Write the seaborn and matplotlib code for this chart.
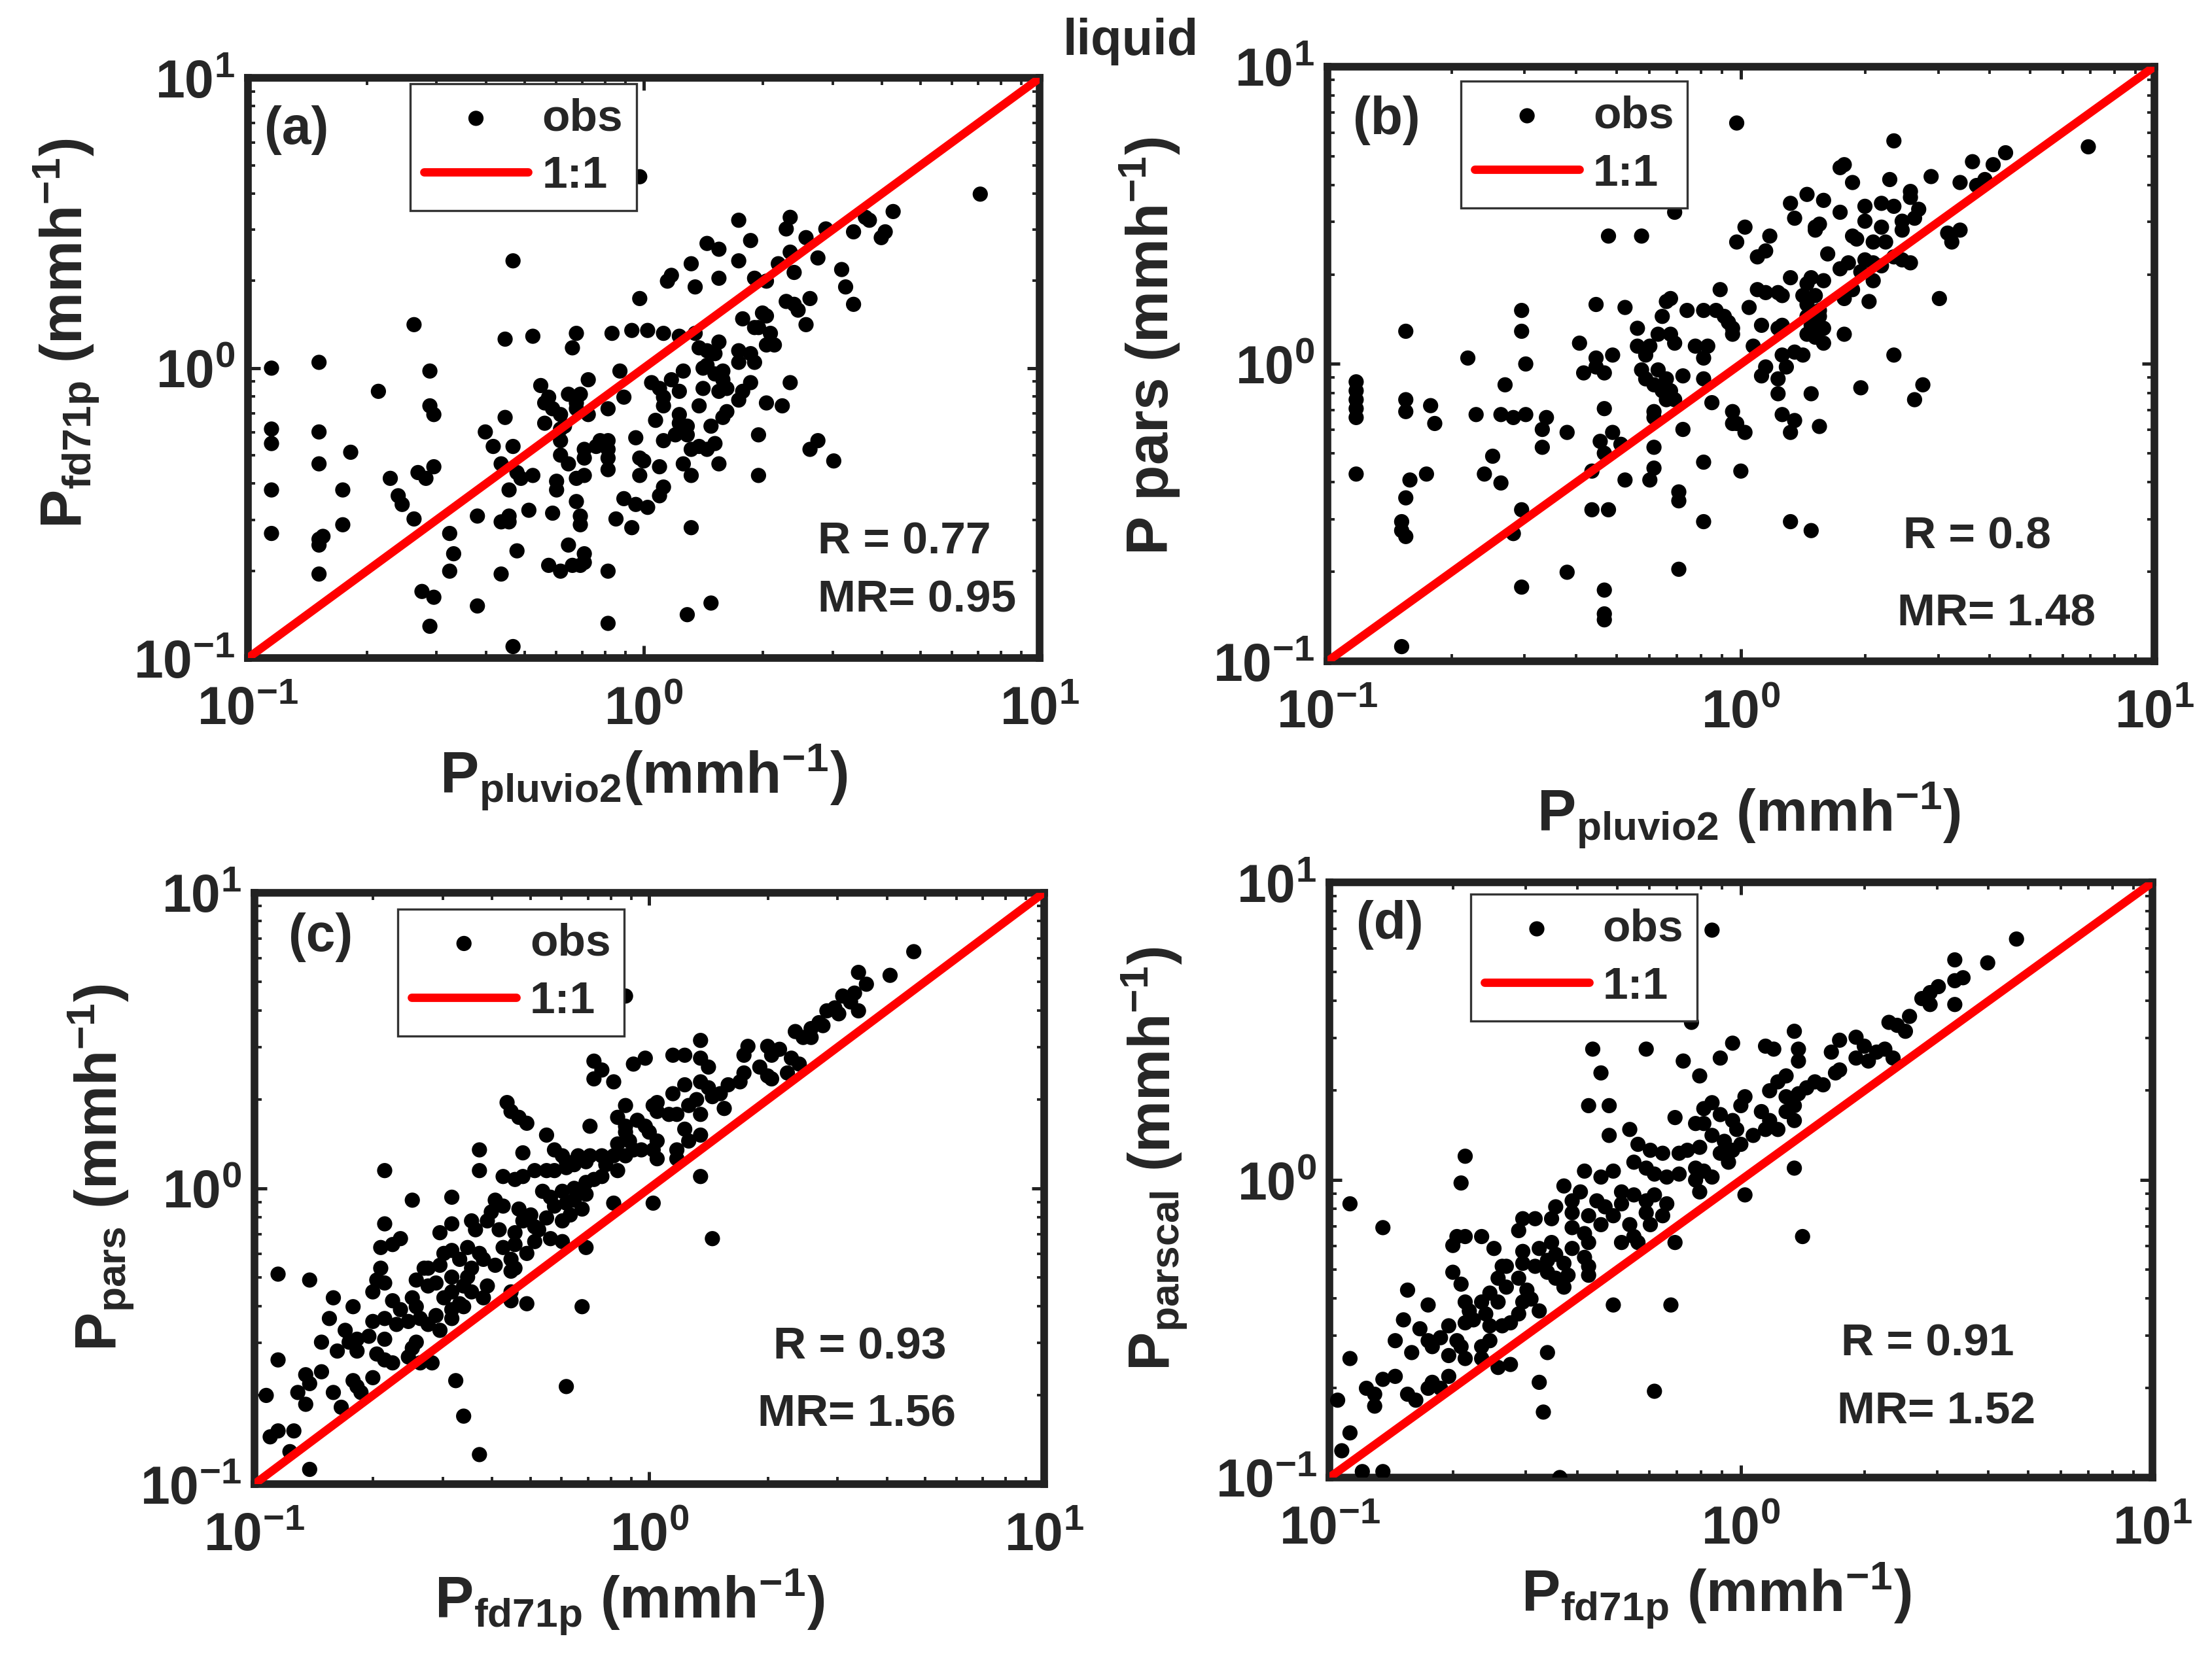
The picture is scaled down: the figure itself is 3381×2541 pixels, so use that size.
import numpy as np
import seaborn as sns
import matplotlib.pyplot as plt
from matplotlib.ticker import FixedLocator, FixedFormatter, LogLocator, NullFormatter

# values, stored as log10(mm/h)
# (a) fd71p vs pluvio2
a_x = [-0.01, 0.85, -0.33, 0.24, 0.37, 0.36, 0.41, 0.46, 0.53, 0.56,
       0.57, 0.63, 0.61, 0.60, 0.16, 0.19, 0.27, 0.24, 0.12, 0.34,
       0.37, 0.44, 0.38, 0.50, 0.07, 0.06, 0.19, 0.13, 0.28, 0.31,
       0.51, 0.53, -0.01, 0.36, 0.38, 0.42, 0.39, 0.30, 0.25, 0.31,
       0.41, -0.58, -0.35, -0.28, -0.17, -0.18, -0.08, -0.03, 0.01, 0.05,
       0.09, 0.13, 0.28, 0.29, 0.32, 0.31, 0.33, 0.14, 0.19, 0.16,
       0.18, 0.24, 0.27, 0.28, 0.24, -0.94, -0.82, -0.54, -0.06, 0.10,
       0.15, 0.16, 0.20, 0.18, 0.20, -0.67, -0.26, -0.14, 0.02, 0.04,
       0.09, 0.07, 0.15, 0.19, 0.21, 0.27, 0.37, 0.25, 0.24, -0.19,
       -0.16, -0.24, -0.25, -0.05, 0.05, 0.05, 0.14, 0.31, 0.35, -0.54,
       -0.53, -0.35, -0.23, -0.21, -0.17, -0.09, -0.17, -0.14, -0.25, -0.20,
       0.03, 0.09, 0.21, 0.20, 0.17, 0.09, 0.11, -0.94, -0.82, -0.40,
       -0.21, -0.02, 0.08, 0.10, 0.11, 0.05, 0.29, -0.94, -0.74, -0.38,
       -0.33, -0.21, -0.12, -0.11, -0.09, -0.09, -0.15, 0.18, 0.14, 0.16,
       0.12, 0.42, 0.44, -0.82, -0.53, -0.36, -0.21, -0.19, -0.15, -0.09,
       -0.01, 0.00, 0.10, 0.19, 0.48, -0.64, -0.57, -0.55, -0.32, -0.31,
       -0.28, -0.17, -0.15, -0.22, -0.09, 0.04, -0.01, 0.12, 0.29, -0.94,
       -0.76, -0.34, -0.22, 0.05, 0.04, -0.62, -0.61, -0.17, -0.05, -0.02,
       0.01, -0.58, -0.42, -0.36, -0.34, -0.34, -0.29, -0.23, -0.16, -0.16,
       -0.07, -0.03, 0.12, -0.76, -0.94, -0.82, -0.81, -0.82, -0.49, -0.48,
       -0.32, -0.19, -0.15, -0.15, -0.24, -0.21, -0.18, -0.16, -0.82, -0.49,
       -0.36, -0.09, -0.56, -0.53, -0.42, 0.17, 0.11, -0.54, -0.09, -0.33]
a_y = [0.66, 0.60, 0.37, 0.51, 0.52, 0.48, 0.45, 0.48, 0.47, 0.52,
       0.51, 0.54, 0.47, 0.45, 0.43, 0.41, 0.44, 0.37, 0.36, 0.36,
       0.40, 0.38, 0.33, 0.34, 0.32, 0.30, 0.31, 0.28, 0.31, 0.30,
       0.28, 0.22, 0.24, 0.23, 0.22, 0.24, 0.20, 0.19, 0.17, 0.18,
       0.15, 0.15, 0.10, 0.11, 0.12, 0.07, 0.12, 0.13, 0.13, 0.12,
       0.11, 0.12, 0.14, 0.14, 0.12, 0.08, 0.08, 0.07, 0.09, 0.06,
       0.05, 0.06, 0.05, 0.02, 0.02, 0.00, 0.02, -0.01, -0.01, -0.01,
       0.00, 0.01, -0.01, -0.02, -0.04, -0.08, -0.06, -0.04, -0.05, -0.07,
       -0.08, -0.04, -0.07, -0.08, -0.07, -0.05, -0.05, -0.08, -0.11, -0.09,
       -0.09, -0.10, -0.12, -0.10, -0.10, -0.13, -0.13, -0.12, -0.13, -0.13,
       -0.16, -0.17, -0.14, -0.16, -0.12, -0.14, -0.14, -0.16, -0.19, -0.20,
       -0.18, -0.16, -0.15, -0.17, -0.20, -0.19, -0.20, -0.21, -0.22, -0.22,
       -0.21, -0.24, -0.23, -0.22, -0.23, -0.25, -0.23, -0.26, -0.29, -0.27,
       -0.27, -0.25, -0.27, -0.25, -0.25, -0.28, -0.28, -0.26, -0.27, -0.28,
       -0.28, -0.28, -0.25, -0.33, -0.34, -0.33, -0.30, -0.33, -0.31, -0.31,
       -0.31, -0.32, -0.33, -0.33, -0.32, -0.38, -0.36, -0.38, -0.36, -0.38,
       -0.37, -0.38, -0.37, -0.39, -0.35, -0.34, -0.37, -0.37, -0.37, -0.42,
       -0.42, -0.42, -0.42, -0.41, -0.44, -0.44, -0.47, -0.46, -0.45, -0.47,
       -0.48, -0.52, -0.51, -0.53, -0.53, -0.51, -0.49, -0.50, -0.51, -0.54,
       -0.52, -0.55, -0.55, -0.54, -0.57, -0.59, -0.58, -0.61, -0.57, -0.64,
       -0.63, -0.61, -0.64, -0.67, -0.68, -0.70, -0.68, -0.68, -0.71, -0.70,
       -0.71, -0.70, -0.77, -0.79, -0.82, -0.81, -0.85, -0.89, -0.88, -0.96]

# (b) pars vs pluvio2
b_x = [-0.01, 0.37, 0.84, 0.24, 0.25, 0.64, 0.56, 0.61, 0.46, 0.36,
       0.27, 0.53, 0.57, 0.59, 0.41, 0.41, 0.16, 0.12, 0.20, 0.34,
       0.37, 0.30, 0.24, 0.43, -0.16, 0.13, 0.30, 0.34, 0.39, 0.42,
       0.39, 0.18, 0.19, 0.18, 0.01, 0.07, -0.32, -0.24, 0.27, 0.28,
       0.32, 0.35, -0.01, 0.50, 0.51, 0.53, 0.06, 0.04, 0.21, 0.30,
       0.32, 0.37, 0.39, 0.41, 0.26, 0.24, 0.29, 0.34, 0.12, 0.17,
       0.16, 0.20, 0.32, 0.27, 0.25, 0.31, 0.48, -0.05, 0.04, 0.06,
       0.09, 0.10, 0.15, 0.18, 0.16, 0.19, -0.17, -0.18, -0.35, -0.28,
       -0.53, -0.13, -0.09, -0.06, 0.02, -0.19, -0.04, -0.03, -0.02, -0.02,
       0.05, 0.10, 0.09, 0.16, 0.17, 0.19, 0.20, 0.18, 0.16, 0.20,
       0.25, -0.25, -0.53, -0.81, -0.20, -0.17, -0.16, -0.11, -0.08, -0.39,
       -0.25, -0.22, 0.03, -0.66, -0.52, -0.35, -0.35, -0.33, -0.31, -0.38,
       -0.23, -0.24, -0.23, -0.21, -0.19, -0.20, -0.18, -0.17, -0.16, -0.18,
       -0.14, -0.09, -0.09, 0.10, 0.13, 0.15, 0.06, 0.05, 0.09, 0.11,
       0.37, 0.44, 0.42, 0.29, 0.17, 0.09, -0.57, -0.93, -0.93, -0.93,
       -0.93, -0.93, -0.81, -0.81, -0.75, -0.74, -0.64, -0.58, -0.55, -0.52,
       -0.47, -0.48, -0.42, -0.33, -0.31, -0.21, -0.21, -0.07, -0.02, -0.02,
       -0.01, 0.01, -0.14, 0.10, 0.13, 0.12, 0.19, -0.48, -0.34, -0.33,
       -0.29, -0.21, -0.60, -0.21, -0.09, 0.00, -0.36, -0.93, -0.76, -0.62,
       -0.58, -0.80, -0.81, -0.28, -0.22, -0.15, -0.15, -0.53, -0.36, -0.32,
       -0.09, 0.12, 0.17, -0.82, -0.82, -0.81, -0.55, -0.42, -0.15, -0.53,
       -0.33, -0.33, -0.33, -0.82]
b_y = [0.81, 0.75, 0.73, 0.66, 0.67, 0.71, 0.68, 0.67, 0.63, 0.62,
       0.61, 0.61, 0.60, 0.62, 0.58, 0.56, 0.57, 0.54, 0.55, 0.54,
       0.53, 0.53, 0.51, 0.52, 0.51, 0.49, 0.48, 0.46, 0.48, 0.49,
       0.45, 0.46, 0.47, 0.45, 0.46, 0.43, 0.43, 0.43, 0.43, 0.42,
       0.41, 0.41, 0.41, 0.44, 0.41, 0.45, 0.38, 0.36, 0.37, 0.35,
       0.34, 0.36, 0.35, 0.34, 0.34, 0.32, 0.31, 0.33, 0.29, 0.29,
       0.27, 0.28, 0.28, 0.25, 0.22, 0.21, 0.22, 0.25, 0.25, 0.24,
       0.24, 0.23, 0.23, 0.23, 0.20, 0.18, 0.22, 0.21, 0.20, 0.19,
       0.18, 0.18, 0.18, 0.18, 0.19, 0.16, 0.16, 0.14, 0.12, 0.10,
       0.13, 0.13, 0.12, 0.16, 0.13, 0.16, 0.12, 0.09, 0.10, 0.07,
       0.10, 0.12, 0.11, 0.11, 0.10, 0.10, 0.07, 0.06, 0.06, 0.07,
       0.06, 0.06, 0.06, 0.02, 0.00, 0.02, -0.01, -0.03, 0.03, -0.03,
       0.03, -0.02, -0.05, -0.07, -0.09, -0.02, -0.05, -0.09, -0.12, -0.12,
       -0.04, 0.02, -0.05, 0.03, 0.04, 0.03, -0.01, -0.04, -0.05, -0.01,
       0.03, -0.07, -0.12, -0.08, -0.10, -0.10, -0.07, -0.06, -0.09, -0.12,
       -0.15, -0.18, -0.12, -0.16, -0.14, -0.20, -0.17, -0.17, -0.18, -0.17,
       -0.18, -0.22, -0.23, -0.15, -0.23, -0.16, -0.18, -0.13, -0.16, -0.20,
       -0.20, -0.23, -0.22, -0.17, -0.19, -0.23, -0.21, -0.28, -0.26, -0.30,
       -0.27, -0.28, -0.31, -0.35, -0.33, -0.36, -0.36, -0.37, -0.37, -0.37,
       -0.40, -0.39, -0.45, -0.39, -0.39, -0.43, -0.46, -0.49, -0.49, -0.49,
       -0.53, -0.53, -0.56, -0.53, -0.56, -0.58, -0.57, -0.70, -0.69, -0.75,
       -0.76, -0.84, -0.86, -0.95]

# (c) pars vs fd71p
c_x = [0.67, -0.06, 0.53, 0.61, 0.55, 0.49, 0.52, 0.51, 0.53, 0.47,
       0.45, 0.48, 0.43, 0.41, 0.44, 0.37, 0.39, 0.41, 0.13, 0.30,
       0.33, 0.31, 0.25, 0.24, 0.06, 0.09, -0.01, -0.04, -0.14, -0.12,
       -0.14, -0.09, 0.13, 0.15, 0.38, 0.36, 0.28, 0.30, 0.31, 0.35,
       0.24, 0.23, 0.13, 0.09, 0.06, 0.15, 0.20, 0.18, 0.16, 0.19,
       0.12, 0.10, 0.13, 0.07, 0.02, 0.01, 0.02, 0.05, -0.06, -0.08,
       -0.06, -0.03, -0.01, -0.36, -0.35, -0.33, -0.31, -0.15, -0.26, 0.09,
       0.10, 0.13, 0.00, 0.02, 0.01, -0.02, 0.02, -0.06, -0.05, -0.08,
       -0.06, -0.04, -0.09, -0.11, -0.08, -0.12, -0.43, -0.32, -0.43, -0.24,
       -0.22, -0.21, -0.18, -0.15, -0.12, 0.07, 0.07, 0.13, -0.67, -0.37,
       -0.34, -0.32, -0.29, -0.26, -0.24, -0.21, -0.19, -0.16, -0.27, -0.25,
       -0.22, -0.19, -0.16, -0.14, -0.60, -0.50, -0.39, -0.37, -0.40, -0.41,
       -0.38, -0.33, -0.30, -0.32, -0.29, -0.34, -0.24, -0.21, -0.19, -0.16,
       -0.17, -0.20, -0.22, -0.26, -0.28, -0.25, -0.22, -0.29, -0.09, 0.01,
       0.16, -0.16, -0.67, -0.63, -0.65, -0.68, -0.53, -0.50, -0.45, -0.44,
       -0.46, -0.43, -0.50, -0.48, -0.52, -0.53, -0.37, -0.34, -0.35, -0.31,
       -0.34, -0.35, -0.39, -0.42, -0.45, -0.46, -0.68, -0.69, -0.57, -0.56,
       -0.59, -0.56, -0.54, -0.50, -0.50, -0.47, -0.45, -0.41, -0.42, -0.48,
       -0.47, -0.52, -0.50, -0.54, -0.35, -0.35, -0.31, -0.17, -0.94, -0.86,
       -0.80, -0.75, -0.70, -0.67, -0.65, -0.63, -0.60, -0.59, -0.61, -0.58,
       -0.56, -0.53, -0.50, -0.81, -0.77, -0.76, -0.74, -0.71, -0.70, -0.67,
       -0.67, -0.64, -0.83, -0.79, -0.74, -0.69, -0.67, -0.65, -0.60, -0.59,
       -0.61, -0.58, -0.55, -0.94, -0.87, -0.83, -0.89, -0.86, -0.87, -0.80,
       -0.75, -0.74, -0.70, -0.73, -0.78, -0.97, -0.49, -0.21, -0.47, -0.96,
       -0.94, -0.90, -0.91, -0.43, -0.86]
c_y = [0.80, 0.65, 0.73, 0.72, 0.69, 0.65, 0.66, 0.63, 0.60, 0.61,
       0.60, 0.59, 0.56, 0.54, 0.55, 0.53, 0.51, 0.51, 0.50, 0.48,
       0.47, 0.45, 0.48, 0.45, 0.45, 0.45, 0.44, 0.42, 0.43, 0.40,
       0.37, 0.36, 0.44, 0.41, 0.42, 0.44, 0.41, 0.38, 0.37, 0.39,
       0.39, 0.36, 0.36, 0.35, 0.32, 0.34, 0.35, 0.32, 0.31, 0.27,
       0.30, 0.28, 0.25, 0.25, 0.29, 0.28, 0.26, 0.25, 0.28, 0.24,
       0.21, 0.23, 0.21, 0.29, 0.26, 0.24, 0.22, 0.21, 0.18, 0.20,
       0.16, 0.18, 0.19, 0.16, 0.13, 0.13, 0.10, 0.19, 0.16, 0.15,
       0.11, 0.13, 0.11, 0.08, 0.06, 0.04, 0.13, 0.12, 0.06, 0.13,
       0.11, 0.09, 0.11, 0.11, 0.11, 0.10, 0.13, 0.04, 0.06, 0.04,
       0.03, 0.04, 0.06, 0.06, 0.06, 0.07, 0.08, 0.09, -0.01, -0.03,
       -0.01, 0.00, 0.02, 0.03, -0.04, -0.03, -0.04, -0.06, -0.08, -0.11,
       -0.14, -0.07, -0.09, -0.11, -0.13, -0.15, -0.06, -0.05, -0.04, -0.02,
       -0.07, -0.09, -0.11, -0.10, -0.14, -0.17, -0.18, -0.18, -0.05, -0.05,
       -0.17, -0.20, -0.12, -0.17, -0.19, -0.20, -0.15, -0.12, -0.11, -0.14,
       -0.20, -0.22, -0.21, -0.24, -0.22, -0.26, -0.20, -0.19, -0.24, -0.22,
       -0.27, -0.28, -0.26, -0.24, -0.27, -0.30, -0.27, -0.31, -0.27, -0.27,
       -0.31, -0.33, -0.32, -0.30, -0.35, -0.33, -0.35, -0.33, -0.37, -0.39,
       -0.40, -0.37, -0.41, -0.43, -0.35, -0.38, -0.39, -0.40, -0.29, -0.31,
       -0.37, -0.40, -0.35, -0.32, -0.38, -0.41, -0.37, -0.40, -0.45, -0.44,
       -0.46, -0.48, -0.44, -0.44, -0.48, -0.52, -0.51, -0.50, -0.45, -0.44,
       -0.51, -0.46, -0.52, -0.55, -0.55, -0.56, -0.58, -0.59, -0.54, -0.52,
       -0.57, -0.59, -0.59, -0.58, -0.63, -0.62, -0.69, -0.66, -0.73, -0.69,
       -0.65, -0.67, -0.64, -0.69, -0.74, -0.70, -0.65, -0.67, -0.77, -0.84,
       -0.82, -0.82, -0.89, -0.90, -0.95]

# (d) parscal vs fd71p
d_x = [-0.07, 0.67, 0.52, 0.60, 0.54, 0.52, 0.48, 0.52, 0.46, 0.44,
       0.46, 0.41, 0.36, 0.38, 0.40, -0.12, 0.13, -0.02, 0.06, 0.08,
       0.14, 0.14, -0.05, -0.23, -0.36, -0.14, -0.34, -0.10, 0.24, 0.22,
       0.28, 0.30, 0.35, 0.28, 0.31, 0.33, 0.37, 0.24, 0.23, 0.11,
       0.09, 0.18, 0.20, 0.16, 0.14, 0.07, 0.11, 0.13, 0.11, 0.13,
       0.01, 0.00, 0.05, 0.07, 0.06, 0.09, -0.09, -0.07, -0.05, -0.02,
       -0.01, 0.03, -0.37, -0.32, -0.16, -0.11, -0.27, -0.32, -0.09, -0.07,
       -0.04, -0.05, -0.02, 0.00, -0.03, -0.25, -0.22, -0.19, -0.15, -0.13,
       -0.10, -0.26, -0.23, -0.21, -0.18, -0.15, -0.11, -0.09, -0.11, -0.10,
       -0.07, 0.13, 0.01, 0.15, -0.67, -0.68, -0.95, -0.87, -0.38, -0.34,
       -0.31, -0.43, -0.39, -0.41, -0.45, -0.41, -0.35, -0.33, -0.37, -0.31,
       -0.34, -0.29, -0.26, -0.23, -0.21, -0.18, -0.29, -0.23, -0.19, -0.22,
       -0.27, -0.26, -0.29, -0.25, -0.53, -0.50, -0.46, -0.54, -0.41, -0.38,
       -0.37, -0.41, -0.69, -0.67, -0.63, -0.70, -0.60, -0.16, -0.46, -0.49,
       -0.53, -0.45, -0.47, -0.53, -0.50, -0.47, -0.43, -0.42, -0.45, -0.43,
       -0.38, -0.37, -0.37, -0.58, -0.57, -0.59, -0.57, -0.54, -0.52, -0.70,
       -0.68, -0.61, -0.63, -0.59, -0.53, -0.51, -0.49, -0.54, -0.56, -0.58,
       -0.67, -0.66, -0.65, -0.67, -0.62, -0.61, -0.81, -0.76, -0.31, -0.17,
       -0.82, -0.78, -0.76, -0.75, -0.73, -0.71, -0.69, -0.84, -0.80, -0.71,
       -0.68, -0.67, -0.63, -0.63, -0.61, -0.59, -0.56, -0.47, -0.95, -0.84,
       -0.87, -0.91, -0.89, -0.89, -0.81, -0.79, -0.75, -0.76, -0.71, -0.73,
       -0.49, -0.21, -0.48, -0.98, -0.95, -0.97, -0.92, -0.87, -0.44]
d_y = [0.84, 0.81, 0.74, 0.73, 0.68, 0.67, 0.65, 0.59, 0.63, 0.61,
       0.59, 0.55, 0.53, 0.52, 0.50, 0.53, 0.50, 0.46, 0.45, 0.44,
       0.44, 0.40, 0.41, 0.44, 0.44, 0.40, 0.36, 0.35, 0.47, 0.43,
       0.48, 0.45, 0.44, 0.41, 0.40, 0.43, 0.41, 0.37, 0.36, 0.35,
       0.33, 0.33, 0.32, 0.31, 0.29, 0.30, 0.28, 0.25, 0.23, 0.20,
       0.28, 0.25, 0.23, 0.20, 0.17, 0.17, 0.24, 0.26, 0.22, 0.20,
       0.17, 0.15, 0.25, 0.25, 0.21, 0.19, 0.17, 0.15, 0.19, 0.15,
       0.13, 0.09, 0.10, 0.12, 0.06, 0.12, 0.10, 0.09, 0.09, 0.10,
       0.11, 0.06, 0.04, 0.02, 0.01, 0.02, 0.04, 0.03, 0.00, -0.04,
       0.01, 0.04, -0.05, -0.19, 0.08, -0.01, -0.08, -0.16, 0.03, 0.01,
       0.03, -0.02, -0.04, -0.07, -0.09, -0.11, -0.07, -0.09, -0.12, -0.12,
       -0.15, -0.04, -0.05, -0.07, -0.05, -0.08, -0.08, -0.11, -0.12, -0.15,
       -0.15, -0.19, -0.21, -0.21, -0.13, -0.13, -0.13, -0.17, -0.16, -0.18,
       -0.21, -0.23, -0.19, -0.19, -0.19, -0.22, -0.23, -0.21, -0.21, -0.23,
       -0.24, -0.25, -0.27, -0.28, -0.29, -0.31, -0.28, -0.32, -0.33, -0.36,
       -0.26, -0.29, -0.32, -0.29, -0.29, -0.33, -0.36, -0.33, -0.37, -0.31,
       -0.35, -0.38, -0.41, -0.41, -0.41, -0.40, -0.44, -0.45, -0.48, -0.49,
       -0.41, -0.44, -0.47, -0.48, -0.45, -0.49, -0.37, -0.42, -0.42, -0.42,
       -0.47, -0.50, -0.54, -0.56, -0.53, -0.49, -0.54, -0.54, -0.58, -0.59,
       -0.56, -0.60, -0.56, -0.60, -0.54, -0.63, -0.62, -0.58, -0.60, -0.66,
       -0.67, -0.70, -0.72, -0.76, -0.72, -0.74, -0.68, -0.70, -0.66, -0.70,
       -0.68, -0.71, -0.78, -0.74, -0.85, -0.91, -0.98, -0.98, -1.00]

one_to_one = [0.1, 10]
tags = ['(a)', '(b)', '(c)', '(d)']
r_text = ['R = 0.77', 'R = 0.8', 'R = 0.93', 'R = 0.91']
mr_text = ['MR= 0.95', 'MR= 1.48', 'MR= 1.56', 'MR= 1.52']
x_labels = ['P$_{pluvio2}$(mmh$^{-1}$)', 'P$_{pluvio2}$ (mmh$^{-1}$)',
            'P$_{fd71p}$ (mmh$^{-1}$)', 'P$_{fd71p}$ (mmh$^{-1}$)']
y_labels = ['P$_{fd71p}$ (mmh$^{-1}$)', 'P pars (mmh$^{-1}$)',
            'P$_{pars}$ (mmh$^{-1}$)', 'P$_{parscal}$ (mmh$^{-1}$)']
tick_vals = [0.1, 1, 10]
tick_text = ['10$^{-1}$', '10$^{0}$', '10$^{1}$']

sns.set_style('ticks')
plt.rcParams['font.family'] = ['Liberation Sans', 'DejaVu Sans']
plt.rcParams['font.weight'] = 'bold'
plt.rcParams['mathtext.fontset'] = 'custom'
plt.rcParams['mathtext.rm'] = 'Liberation Sans:bold'
plt.rcParams['mathtext.it'] = 'Liberation Sans:bold'
plt.rcParams['mathtext.bf'] = 'Liberation Sans:bold'
plt.rcParams['mathtext.sf'] = 'Liberation Sans:bold'
plt.rcParams['mathtext.default'] = 'rm'

fig = plt.figure(figsize=(16.905, 12.705), dpi=200)
fig.patch.set_facecolor('white')

rects = [[0.112, 0.604, 0.358, 0.349],
         [0.600, 0.602, 0.374, 0.358],
         [0.115, 0.107, 0.357, 0.356],
         [0.601, 0.111, 0.372, 0.358]]
legend_pos = [(0.205, 0.99), (0.162, 0.975), (0.182, 0.972), (0.172, 0.98)]
tag_pos = [(0.021, 0.91), (0.031, 0.91), (0.043, 0.924), (0.033, 0.929)]
r_pos = [(0.72, 0.20), (0.696, 0.21), (0.657, 0.232), (0.622, 0.225)]
mr_pos = [(0.72, 0.10), (0.689, 0.08), (0.637, 0.118), (0.617, 0.11)]
xlab_pos = [(0.50, -0.145), (0.51, -0.20), (0.475, -0.14), (0.47, -0.14)]
ylab_pos = [(-0.185, 0.56), (-0.175, 0.53), (-0.15, 0.535), (-0.17, 0.535)]

panels = [(a_x, a_y), (b_x, b_y), (c_x, c_y), (d_x, d_y)]

for i, (lx, ly) in enumerate(panels):
    ax = fig.add_axes(rects[i])
    xs = 10 ** np.array(lx)
    ys = 10 ** np.array(ly)
    sns.scatterplot(x=xs, y=ys, ax=ax, color='k', s=70, edgecolor='none',
                    label='obs', zorder=3)
    sns.lineplot(x=one_to_one, y=one_to_one, ax=ax, color='red', lw=4.6,
                 label='1:1', zorder=4)
    ax.set_xscale('log')
    ax.set_yscale('log')
    ax.set_xlim(0.1, 10)
    ax.set_ylim(0.1, 10)

    for axis in (ax.xaxis, ax.yaxis):
        axis.set_major_locator(FixedLocator(tick_vals))
        axis.set_major_formatter(FixedFormatter(tick_text))
        axis.set_minor_locator(LogLocator(base=10, subs=np.arange(2, 10)))
        axis.set_minor_formatter(NullFormatter())
    ax.tick_params(which='major', direction='in', length=7, width=1.8,
                   top=True, right=True, labelsize=29, color='#222222')
    ax.tick_params(which='minor', direction='in', length=4, width=1.4,
                   top=True, right=True, color='#222222')
    ax.tick_params(axis='x', pad=15)
    ax.tick_params(axis='y', pad=7)
    for sp in ax.spines.values():
        sp.set_linewidth(4.2)
        sp.set_color('#222222')

    ax.set_xlabel(x_labels[i], fontsize=32, fontweight='bold')
    ax.set_ylabel(y_labels[i], fontsize=32, fontweight='bold')
    ax.xaxis.set_label_coords(*xlab_pos[i])
    ax.yaxis.set_label_coords(*ylab_pos[i])

    leg = ax.legend(loc='upper left', bbox_to_anchor=legend_pos[i],
                    frameon=True, fancybox=False, edgecolor='#333333',
                    framealpha=1, fontsize=25, handlelength=2.3,
                    handletextpad=0.3, borderpad=0.3, labelspacing=0.35,
                    borderaxespad=0.0)
    leg.get_frame().set_linewidth(1.2)

    ax.text(*tag_pos[i], tags[i], transform=ax.transAxes, fontsize=29,
            fontweight='bold', va='center', ha='left')
    ax.text(*r_pos[i], r_text[i], transform=ax.transAxes,
            fontsize=25, fontweight='bold', va='center', ha='left')
    ax.text(*mr_pos[i], mr_text[i], transform=ax.transAxes,
            fontsize=25, fontweight='bold', va='center', ha='left')

fig.text(0.511, 0.975, 'liquid', ha='center', va='center', fontsize=28,
         fontweight='bold')

fig.savefig('out.png', dpi=200, facecolor='white')
